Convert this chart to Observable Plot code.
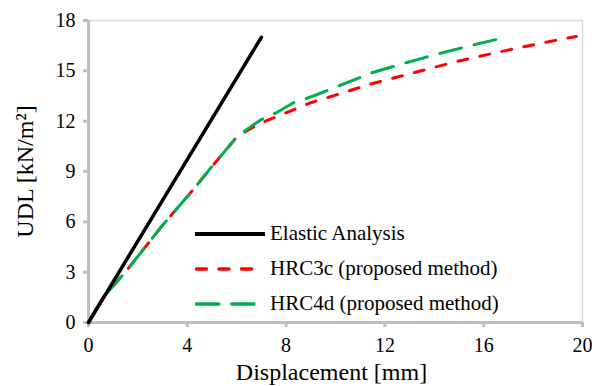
<!DOCTYPE html>
<html>
<head>
<meta charset="utf-8">
<script src="https://cdn.jsdelivr.net/npm/d3@7"></script>
<script src="https://cdn.jsdelivr.net/npm/@observablehq/plot@0.6"></script>
<style>
  html, body { margin: 0; padding: 0; background: #fff; }
  #wrap { position: relative; width: 592px; height: 386px; font-family: "Liberation Serif", "Times New Roman", serif; }
  #legend { position: absolute; left: 195px; top: 216px; font-size: 21px; color: #000; }
  #legend .row { display: flex; align-items: center; height: 35px; }
  #legend svg { margin-right: 3px; }
</style>
</head>
<body>
<div id="wrap"></div>
<script>
// Series data (displacement mm, UDL kN/m^2)
const elasticX = [0, 7];
const elasticY = [0, 17];

const hrc3cX = [0, 0.3, 0.6, 1.6, 3.0, 4.2, 5.0, 6.0, 6.5, 7.0, 8.0, 9.0, 10.0, 11.4, 13.2, 14.9, 16.7, 18.5, 19.75];
const hrc3cY = [0, 0.8, 1.5, 3.2, 5.8, 7.85, 9.3, 11.05, 11.5, 11.9, 12.5, 13.1, 13.55, 14.2, 14.9, 15.55, 16.15, 16.7, 17.05];

const hrc4dX = [0, 0.3, 0.6, 1.6, 3.0, 4.2, 5.0, 6.0, 6.5, 7.0, 7.6, 8.3, 9.1, 9.7, 11.5, 12.9, 14.25, 15.6, 16.55];
const hrc4dY = [0, 0.8, 1.5, 3.2, 5.8, 7.85, 9.3, 11.05, 11.6, 12.1, 12.5, 13.1, 13.5, 13.85, 14.9, 15.5, 16.05, 16.55, 16.88];

const xTicks = [0, 4, 8, 12, 16, 20];
const yTicks = [0, 3, 6, 9, 12, 15, 18];

const seriesNames = ["Elastic Analysis", "HRC3c (proposed method)", "HRC4d (proposed method)"];
const seriesColors = ["#000000", "#ff0000", "#00b050"];
const seriesDash = [null, "10,12.5", "22.3,13"];

const xTitle = "Displacement [mm]";
const yTitle = "UDL [kN/m²]";

const toRows = (xs, ys) => xs.map((x, i) => ({x, y: ys[i]}));
const elastic = toRows(elasticX, elasticY);
const hrc3c = toRows(hrc3cX, hrc3cY);
const hrc4d = toRows(hrc4dX, hrc4dY);

const axisColor = "#bfbfbf";

const chart = Plot.plot({
  width: 592,
  height: 386,
  marginLeft: 88,
  marginRight: 10,
  marginTop: 20,
  marginBottom: 64,
  style: { fontFamily: "'Liberation Serif', 'Times New Roman', serif", fontSize: "20px", color: "#000", background: "#fff" },
  x: { domain: [0, 20] },
  y: { domain: [0, 18] },
  marks: [
    Plot.frame({ stroke: "#d9d9d9", strokeWidth: 1.5 }),
    Plot.axisX({ ticks: xTicks, tickSize: 5, tickPadding: 10, stroke: axisColor, strokeWidth: 3, label: null, tickFormat: d => String(d) }),
    Plot.axisY({ ticks: yTicks, tickSize: 5, tickPadding: 8, stroke: axisColor, strokeWidth: 3, label: null, tickFormat: d => String(d) }),
    Plot.ruleY([0], { stroke: axisColor, strokeWidth: 3 }),
    Plot.ruleX([0], { stroke: axisColor, strokeWidth: 3 }),
    Plot.line(hrc3c, { x: "x", y: "y", stroke: seriesColors[1], strokeWidth: 3, strokeDasharray: seriesDash[1], strokeLinecap: "round" }),
    Plot.line(hrc4d, { x: "x", y: "y", stroke: seriesColors[2], strokeWidth: 3, strokeDasharray: seriesDash[2], strokeLinecap: "round" }),
    Plot.line(elastic, { x: "x", y: "y", stroke: seriesColors[0], strokeWidth: 3.5, strokeLinecap: "round" }),
    Plot.text([xTitle], { frameAnchor: "bottom", dx: -4, dy: 57, fontSize: 24, textAnchor: "middle", text: d => d }),
    Plot.text([yTitle], { frameAnchor: "left", dx: -63, rotate: -90, fontSize: 24, textAnchor: "middle", lineAnchor: "middle", text: d => d })
  ]
});

const wrap = document.getElementById("wrap");
wrap.appendChild(chart);

const legendEnds = [70, 56.5, 59];
const legend = document.createElement("div");
legend.id = "legend";
seriesNames.forEach((name, i) => {
  const row = document.createElement("div");
  row.className = "row";
  const dash = seriesDash[i] ? `stroke-dasharray="${seriesDash[i]}"` : "";
  const x1 = i === 0 ? 0 : 1.5;
  row.innerHTML = `<svg width="72" height="10"><line x1="${x1}" y1="5" x2="${legendEnds[i]}" y2="5" stroke="${seriesColors[i]}" stroke-width="${i === 0 ? 4 : 3.5}" stroke-linecap="${i === 0 ? "butt" : "round"}" ${dash}/></svg><span>${name}</span>`;
  legend.appendChild(row);
});
wrap.appendChild(legend);
</script>
</body>
</html>
